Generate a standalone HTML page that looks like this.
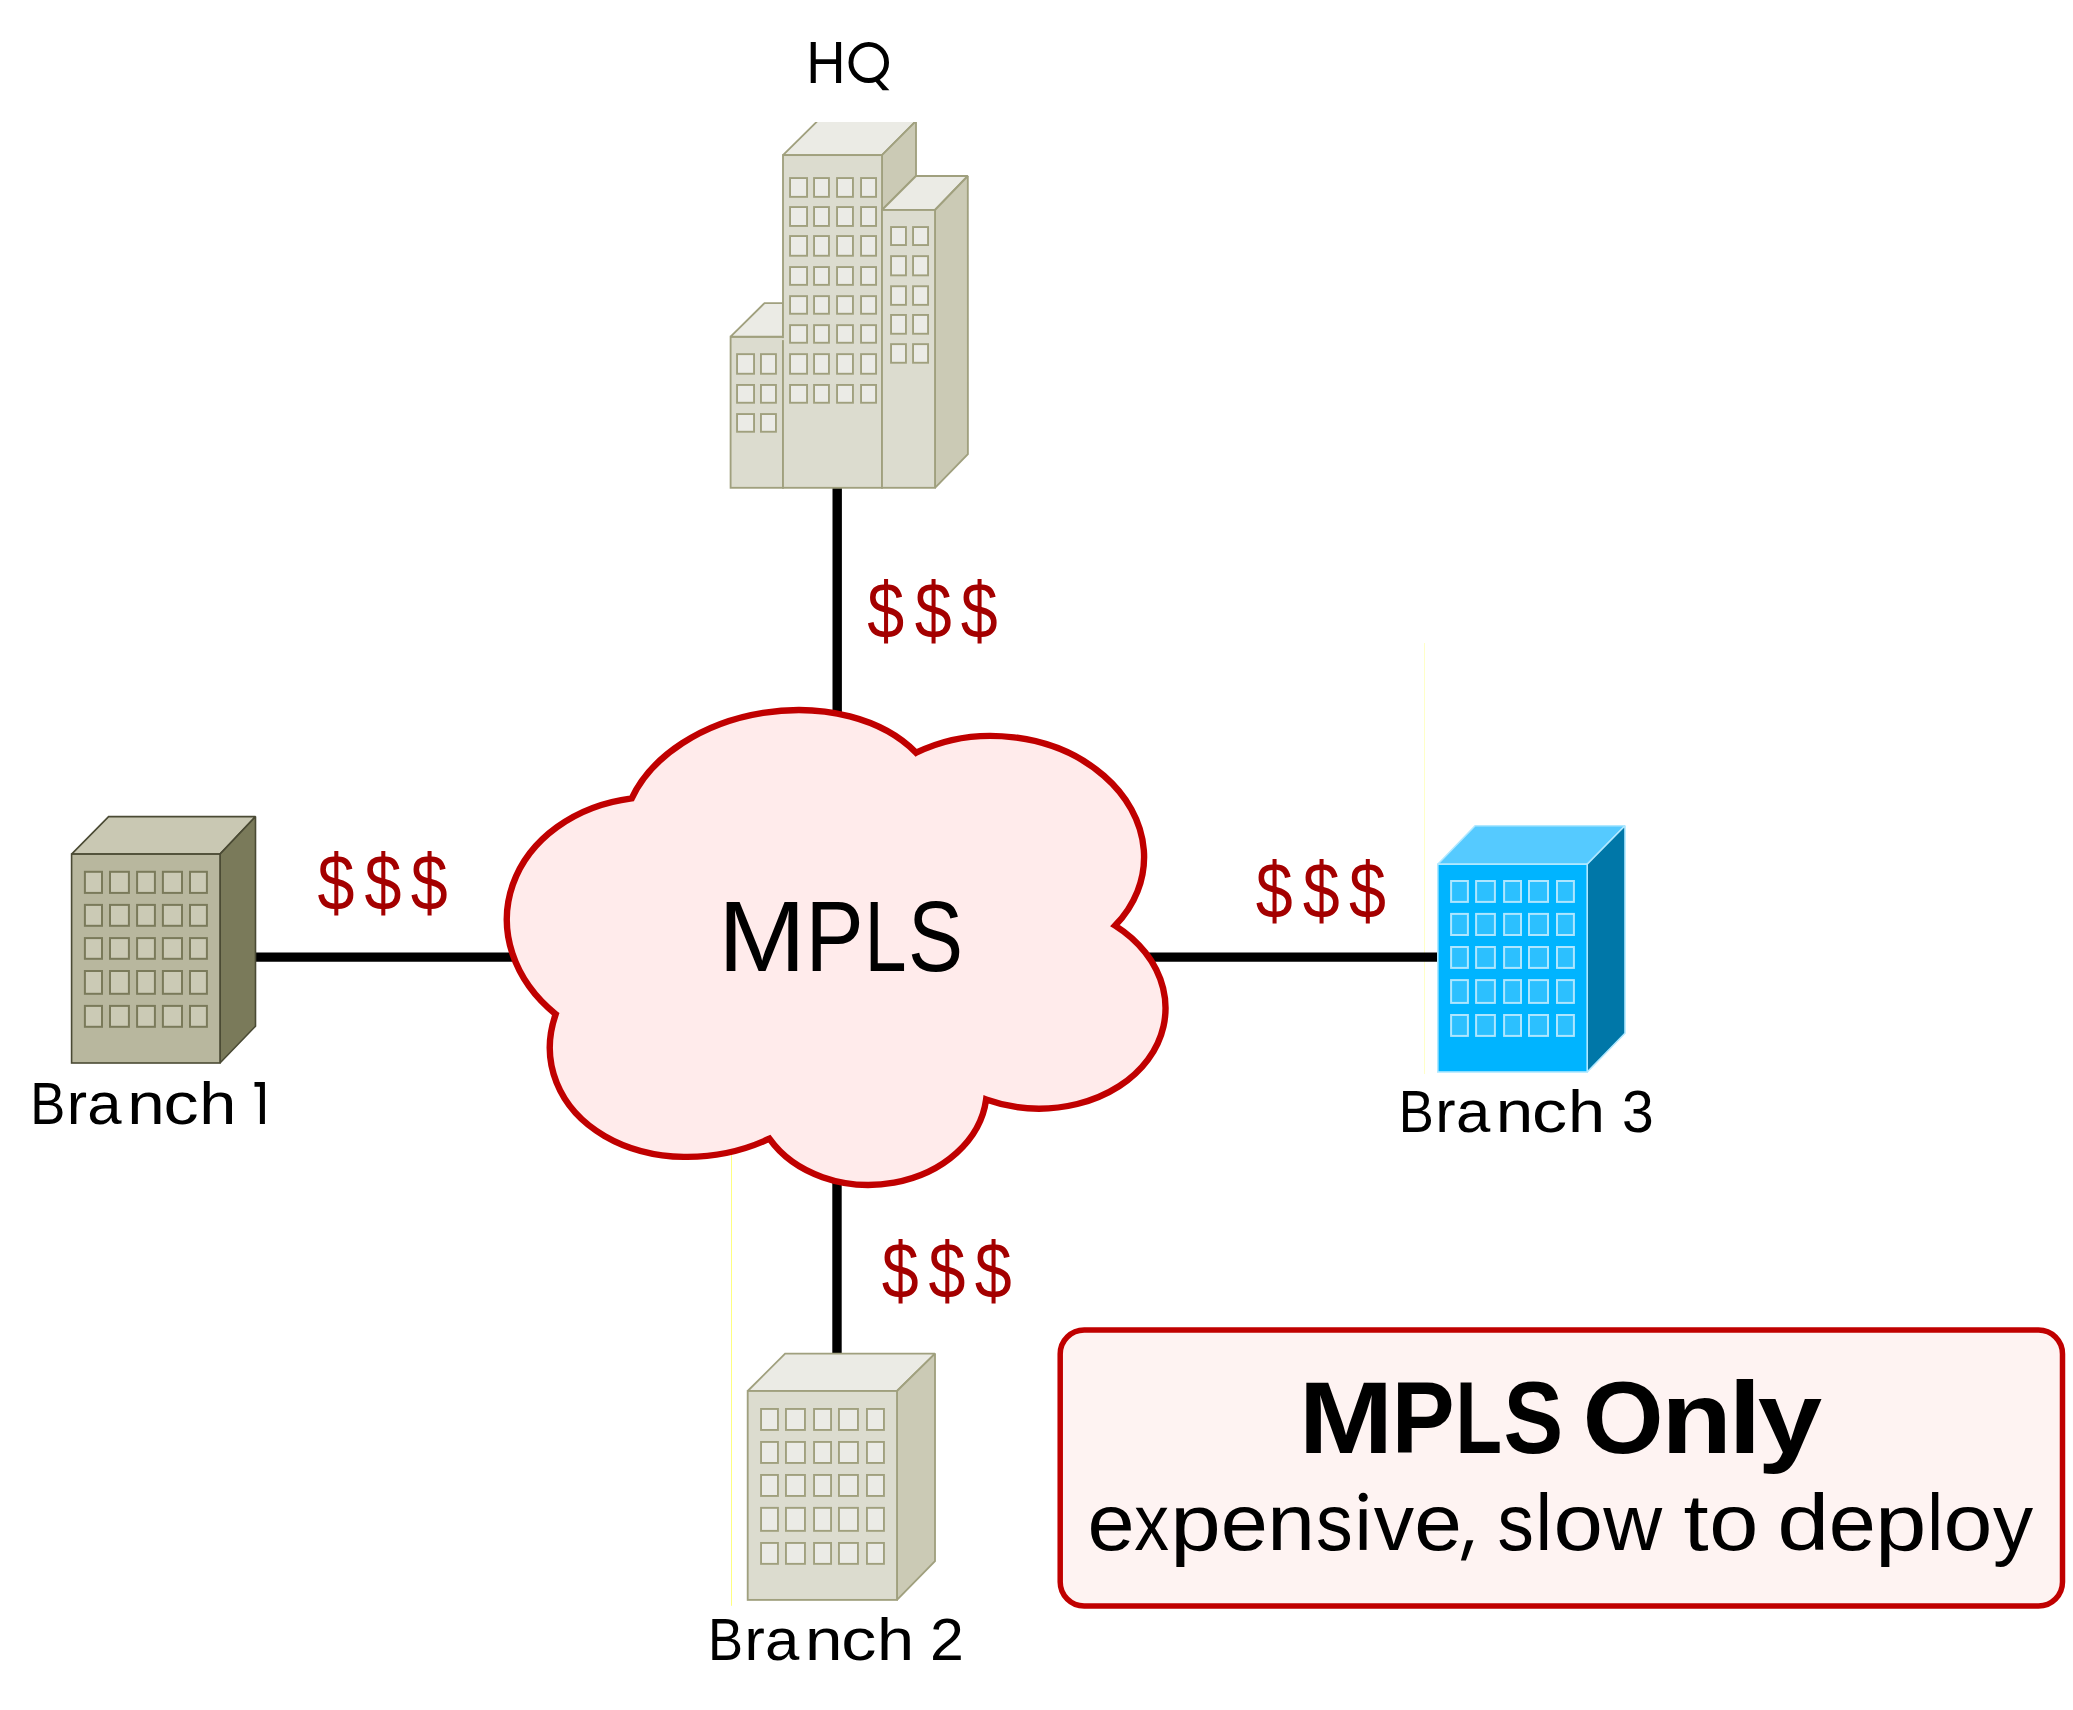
<!DOCTYPE html>
<html><head><meta charset="utf-8"><style>
html,body{margin:0;padding:0;background:#fff;}
body{width:2073px;height:1710px;overflow:hidden;font-family:"Liberation Sans",sans-serif;}
svg{display:block;position:absolute;left:0;top:0;}
</style></head><body>
<svg width="2073" height="1710" viewBox="0 0 2073 1710">
<defs><clipPath id="cliptop"><rect x="700" y="122" width="300" height="400"/></clipPath></defs>
<line x1="1424.5" y1="643" x2="1424.5" y2="1074" stroke="#ffffc8" stroke-width="1"/>
<line x1="731.5" y1="1140" x2="731.5" y2="1605.8" stroke="#ffff80" stroke-width="1"/>
<line x1="837.2" y1="488" x2="837.2" y2="760" stroke="#000" stroke-width="9.4"/>
<line x1="837" y1="1150" x2="837" y2="1353" stroke="#000" stroke-width="9.4"/>
<line x1="255" y1="957.1" x2="540" y2="957.1" stroke="#000" stroke-width="9.2"/>
<line x1="1120" y1="957.1" x2="1438.5" y2="957.1" stroke="#000" stroke-width="9.2"/>
<rect x="730.6" y="336.7" width="52.4" height="151.1" fill="#dcdccf" stroke="#a0a07e" stroke-width="1.85"/>
<polygon points="730.6,336.7 764.5,303.1 783,303.1 783,336.7" fill="#ebebe5" stroke="#a0a07e" stroke-width="1.85" stroke-linejoin="miter" stroke-miterlimit="2"/>
<rect x="737.05" y="354.15" width="17" height="19.6" fill="#ebebe6" stroke="#a0a07e" stroke-width="1.9"/>
<rect x="760.95" y="354.15" width="15" height="19.6" fill="#ebebe6" stroke="#a0a07e" stroke-width="1.9"/>
<rect x="737.05" y="384.95" width="17" height="17.8" fill="#ebebe6" stroke="#a0a07e" stroke-width="1.9"/>
<rect x="760.95" y="384.95" width="15" height="17.8" fill="#ebebe6" stroke="#a0a07e" stroke-width="1.9"/>
<rect x="737.05" y="414.05" width="17" height="17.7" fill="#ebebe6" stroke="#a0a07e" stroke-width="1.9"/>
<rect x="760.95" y="414.05" width="15" height="17.7" fill="#ebebe6" stroke="#a0a07e" stroke-width="1.9"/>
<g clip-path="url(#cliptop)"><polygon points="783,155.1 817.5,121 916,121 882,155.1" fill="#ebebe5" stroke="#a0a07e" stroke-width="1.85" stroke-linejoin="miter" stroke-miterlimit="2"/><polygon points="882,155.1 916,121 916,176 882,210" fill="#cbcab5" stroke="#a0a07e" stroke-width="1.85" stroke-linejoin="miter" stroke-miterlimit="2"/></g>
<rect x="783" y="155.1" width="99" height="332.7" fill="#dcdccf" stroke="#a0a07e" stroke-width="1.85"/>
<rect x="790.05" y="178.05" width="17" height="18.8" fill="#ebebe6" stroke="#a0a07e" stroke-width="1.9"/>
<rect x="814.05" y="178.05" width="14.9" height="18.8" fill="#ebebe6" stroke="#a0a07e" stroke-width="1.9"/>
<rect x="837.05" y="178.05" width="15.9" height="18.8" fill="#ebebe6" stroke="#a0a07e" stroke-width="1.9"/>
<rect x="861.05" y="178.05" width="15" height="18.8" fill="#ebebe6" stroke="#a0a07e" stroke-width="1.9"/>
<rect x="790.05" y="207.05" width="17" height="18.9" fill="#ebebe6" stroke="#a0a07e" stroke-width="1.9"/>
<rect x="814.05" y="207.05" width="14.9" height="18.9" fill="#ebebe6" stroke="#a0a07e" stroke-width="1.9"/>
<rect x="837.05" y="207.05" width="15.9" height="18.9" fill="#ebebe6" stroke="#a0a07e" stroke-width="1.9"/>
<rect x="861.05" y="207.05" width="15" height="18.9" fill="#ebebe6" stroke="#a0a07e" stroke-width="1.9"/>
<rect x="790.05" y="236.05" width="17" height="19.7" fill="#ebebe6" stroke="#a0a07e" stroke-width="1.9"/>
<rect x="814.05" y="236.05" width="14.9" height="19.7" fill="#ebebe6" stroke="#a0a07e" stroke-width="1.9"/>
<rect x="837.05" y="236.05" width="15.9" height="19.7" fill="#ebebe6" stroke="#a0a07e" stroke-width="1.9"/>
<rect x="861.05" y="236.05" width="15" height="19.7" fill="#ebebe6" stroke="#a0a07e" stroke-width="1.9"/>
<rect x="790.05" y="267.05" width="17" height="17.8" fill="#ebebe6" stroke="#a0a07e" stroke-width="1.9"/>
<rect x="814.05" y="267.05" width="14.9" height="17.8" fill="#ebebe6" stroke="#a0a07e" stroke-width="1.9"/>
<rect x="837.05" y="267.05" width="15.9" height="17.8" fill="#ebebe6" stroke="#a0a07e" stroke-width="1.9"/>
<rect x="861.05" y="267.05" width="15" height="17.8" fill="#ebebe6" stroke="#a0a07e" stroke-width="1.9"/>
<rect x="790.05" y="296.15" width="17" height="17.6" fill="#ebebe6" stroke="#a0a07e" stroke-width="1.9"/>
<rect x="814.05" y="296.15" width="14.9" height="17.6" fill="#ebebe6" stroke="#a0a07e" stroke-width="1.9"/>
<rect x="837.05" y="296.15" width="15.9" height="17.6" fill="#ebebe6" stroke="#a0a07e" stroke-width="1.9"/>
<rect x="861.05" y="296.15" width="15" height="17.6" fill="#ebebe6" stroke="#a0a07e" stroke-width="1.9"/>
<rect x="790.05" y="325.15" width="17" height="17.6" fill="#ebebe6" stroke="#a0a07e" stroke-width="1.9"/>
<rect x="814.05" y="325.15" width="14.9" height="17.6" fill="#ebebe6" stroke="#a0a07e" stroke-width="1.9"/>
<rect x="837.05" y="325.15" width="15.9" height="17.6" fill="#ebebe6" stroke="#a0a07e" stroke-width="1.9"/>
<rect x="861.05" y="325.15" width="15" height="17.6" fill="#ebebe6" stroke="#a0a07e" stroke-width="1.9"/>
<rect x="790.05" y="354.15" width="17" height="19.6" fill="#ebebe6" stroke="#a0a07e" stroke-width="1.9"/>
<rect x="814.05" y="354.15" width="14.9" height="19.6" fill="#ebebe6" stroke="#a0a07e" stroke-width="1.9"/>
<rect x="837.05" y="354.15" width="15.9" height="19.6" fill="#ebebe6" stroke="#a0a07e" stroke-width="1.9"/>
<rect x="861.05" y="354.15" width="15" height="19.6" fill="#ebebe6" stroke="#a0a07e" stroke-width="1.9"/>
<rect x="790.05" y="384.95" width="17" height="17.8" fill="#ebebe6" stroke="#a0a07e" stroke-width="1.9"/>
<rect x="814.05" y="384.95" width="14.9" height="17.8" fill="#ebebe6" stroke="#a0a07e" stroke-width="1.9"/>
<rect x="837.05" y="384.95" width="15.9" height="17.8" fill="#ebebe6" stroke="#a0a07e" stroke-width="1.9"/>
<rect x="861.05" y="384.95" width="15" height="17.8" fill="#ebebe6" stroke="#a0a07e" stroke-width="1.9"/>
<polygon points="882,210 916,176 967.8,176 935,210" fill="#ebebe5" stroke="#a0a07e" stroke-width="1.85" stroke-linejoin="miter" stroke-miterlimit="2"/>
<polygon points="935,210 967.8,176 967.9,454.1 935,487.8" fill="#cbcab5" stroke="#a0a07e" stroke-width="1.85" stroke-linejoin="miter" stroke-miterlimit="2"/>
<rect x="882" y="210" width="53" height="277.8" fill="#dcdccf" stroke="#a0a07e" stroke-width="1.85"/>
<rect x="781.9" y="338.1" width="2.2" height="2" fill="#dcdccf"/>
<rect x="891.05" y="227.05" width="14.9" height="18" fill="#ebebe6" stroke="#a0a07e" stroke-width="1.9"/>
<rect x="913.05" y="227.05" width="15" height="18" fill="#ebebe6" stroke="#a0a07e" stroke-width="1.9"/>
<rect x="891.05" y="256.15" width="14.9" height="19.2" fill="#ebebe6" stroke="#a0a07e" stroke-width="1.9"/>
<rect x="913.05" y="256.15" width="15" height="19.2" fill="#ebebe6" stroke="#a0a07e" stroke-width="1.9"/>
<rect x="891.05" y="286.25" width="14.9" height="18.6" fill="#ebebe6" stroke="#a0a07e" stroke-width="1.9"/>
<rect x="913.05" y="286.25" width="15" height="18.6" fill="#ebebe6" stroke="#a0a07e" stroke-width="1.9"/>
<rect x="891.05" y="314.95" width="14.9" height="18.8" fill="#ebebe6" stroke="#a0a07e" stroke-width="1.9"/>
<rect x="913.05" y="314.95" width="15" height="18.8" fill="#ebebe6" stroke="#a0a07e" stroke-width="1.9"/>
<rect x="891.05" y="344.15" width="14.9" height="18.6" fill="#ebebe6" stroke="#a0a07e" stroke-width="1.9"/>
<rect x="913.05" y="344.15" width="15" height="18.6" fill="#ebebe6" stroke="#a0a07e" stroke-width="1.9"/>
<polygon points="71.6,854.1 108.6,816.6 255.5,816.6 220,854.1" fill="#c9c8b3" stroke="#4a4a34" stroke-width="1.6" stroke-linejoin="miter" stroke-miterlimit="2"/>
<polygon points="220,854.1 255.5,816.6 255.5,1026.2 220,1063" fill="#7a7a5a" stroke="#4a4a34" stroke-width="1.6" stroke-linejoin="miter" stroke-miterlimit="2"/>
<rect x="71.6" y="854.1" width="148.4" height="208.9" fill="#b8b79e" stroke="#4a4a34" stroke-width="1.6"/>
<rect x="84.9" y="871.8" width="17.1" height="21.1" fill="#cbcab5" stroke="#7a7a5a" stroke-width="2"/>
<rect x="110" y="871.8" width="18.9" height="21.1" fill="#cbcab5" stroke="#7a7a5a" stroke-width="2"/>
<rect x="137.1" y="871.8" width="17.8" height="21.1" fill="#cbcab5" stroke="#7a7a5a" stroke-width="2"/>
<rect x="162.9" y="871.8" width="19.1" height="21.1" fill="#cbcab5" stroke="#7a7a5a" stroke-width="2"/>
<rect x="190" y="871.8" width="16.9" height="21.1" fill="#cbcab5" stroke="#7a7a5a" stroke-width="2"/>
<rect x="84.9" y="904.9" width="17.1" height="20.9" fill="#cbcab5" stroke="#7a7a5a" stroke-width="2"/>
<rect x="110" y="904.9" width="18.9" height="20.9" fill="#cbcab5" stroke="#7a7a5a" stroke-width="2"/>
<rect x="137.1" y="904.9" width="17.8" height="20.9" fill="#cbcab5" stroke="#7a7a5a" stroke-width="2"/>
<rect x="162.9" y="904.9" width="19.1" height="20.9" fill="#cbcab5" stroke="#7a7a5a" stroke-width="2"/>
<rect x="190" y="904.9" width="16.9" height="20.9" fill="#cbcab5" stroke="#7a7a5a" stroke-width="2"/>
<rect x="84.9" y="938.1" width="17.1" height="20.7" fill="#cbcab5" stroke="#7a7a5a" stroke-width="2"/>
<rect x="110" y="938.1" width="18.9" height="20.7" fill="#cbcab5" stroke="#7a7a5a" stroke-width="2"/>
<rect x="137.1" y="938.1" width="17.8" height="20.7" fill="#cbcab5" stroke="#7a7a5a" stroke-width="2"/>
<rect x="162.9" y="938.1" width="19.1" height="20.7" fill="#cbcab5" stroke="#7a7a5a" stroke-width="2"/>
<rect x="190" y="938.1" width="16.9" height="20.7" fill="#cbcab5" stroke="#7a7a5a" stroke-width="2"/>
<rect x="84.9" y="971" width="17.1" height="22.8" fill="#cbcab5" stroke="#7a7a5a" stroke-width="2"/>
<rect x="110" y="971" width="18.9" height="22.8" fill="#cbcab5" stroke="#7a7a5a" stroke-width="2"/>
<rect x="137.1" y="971" width="17.8" height="22.8" fill="#cbcab5" stroke="#7a7a5a" stroke-width="2"/>
<rect x="162.9" y="971" width="19.1" height="22.8" fill="#cbcab5" stroke="#7a7a5a" stroke-width="2"/>
<rect x="190" y="971" width="16.9" height="22.8" fill="#cbcab5" stroke="#7a7a5a" stroke-width="2"/>
<rect x="84.9" y="1005.9" width="17.1" height="20.9" fill="#cbcab5" stroke="#7a7a5a" stroke-width="2"/>
<rect x="110" y="1005.9" width="18.9" height="20.9" fill="#cbcab5" stroke="#7a7a5a" stroke-width="2"/>
<rect x="137.1" y="1005.9" width="17.8" height="20.9" fill="#cbcab5" stroke="#7a7a5a" stroke-width="2"/>
<rect x="162.9" y="1005.9" width="19.1" height="20.9" fill="#cbcab5" stroke="#7a7a5a" stroke-width="2"/>
<rect x="190" y="1005.9" width="16.9" height="20.9" fill="#cbcab5" stroke="#7a7a5a" stroke-width="2"/>
<polygon points="1437.8,864.2 1475.1,825.7 1625,825.7 1587.2,864.2" fill="#55caff" stroke="#b0e8ff" stroke-width="1.6" stroke-linejoin="miter" stroke-miterlimit="2"/>
<polygon points="1587.2,864.2 1625,825.7 1625,1033.2 1587.2,1072" fill="#0077a8" stroke="#b0e8ff" stroke-width="1.6" stroke-linejoin="miter" stroke-miterlimit="2"/>
<rect x="1437.8" y="864.2" width="149.4" height="207.8" fill="#00b4ff" stroke="#b0e8ff" stroke-width="1.6"/>
<rect x="1451.1" y="881" width="16.8" height="20.9" fill="#2cc0ff" stroke="#aee6ff" stroke-width="2"/>
<rect x="1476.1" y="881" width="18.8" height="20.9" fill="#2cc0ff" stroke="#aee6ff" stroke-width="2"/>
<rect x="1504.1" y="881" width="16.9" height="20.9" fill="#2cc0ff" stroke="#aee6ff" stroke-width="2"/>
<rect x="1529" y="881" width="19" height="20.9" fill="#2cc0ff" stroke="#aee6ff" stroke-width="2"/>
<rect x="1557" y="881" width="16.9" height="20.9" fill="#2cc0ff" stroke="#aee6ff" stroke-width="2"/>
<rect x="1451.1" y="913.9" width="16.8" height="21.1" fill="#2cc0ff" stroke="#aee6ff" stroke-width="2"/>
<rect x="1476.1" y="913.9" width="18.8" height="21.1" fill="#2cc0ff" stroke="#aee6ff" stroke-width="2"/>
<rect x="1504.1" y="913.9" width="16.9" height="21.1" fill="#2cc0ff" stroke="#aee6ff" stroke-width="2"/>
<rect x="1529" y="913.9" width="19" height="21.1" fill="#2cc0ff" stroke="#aee6ff" stroke-width="2"/>
<rect x="1557" y="913.9" width="16.9" height="21.1" fill="#2cc0ff" stroke="#aee6ff" stroke-width="2"/>
<rect x="1451.1" y="947" width="16.8" height="20.9" fill="#2cc0ff" stroke="#aee6ff" stroke-width="2"/>
<rect x="1476.1" y="947" width="18.8" height="20.9" fill="#2cc0ff" stroke="#aee6ff" stroke-width="2"/>
<rect x="1504.1" y="947" width="16.9" height="20.9" fill="#2cc0ff" stroke="#aee6ff" stroke-width="2"/>
<rect x="1529" y="947" width="19" height="20.9" fill="#2cc0ff" stroke="#aee6ff" stroke-width="2"/>
<rect x="1557" y="947" width="16.9" height="20.9" fill="#2cc0ff" stroke="#aee6ff" stroke-width="2"/>
<rect x="1451.1" y="980.1" width="16.8" height="22.8" fill="#2cc0ff" stroke="#aee6ff" stroke-width="2"/>
<rect x="1476.1" y="980.1" width="18.8" height="22.8" fill="#2cc0ff" stroke="#aee6ff" stroke-width="2"/>
<rect x="1504.1" y="980.1" width="16.9" height="22.8" fill="#2cc0ff" stroke="#aee6ff" stroke-width="2"/>
<rect x="1529" y="980.1" width="19" height="22.8" fill="#2cc0ff" stroke="#aee6ff" stroke-width="2"/>
<rect x="1557" y="980.1" width="16.9" height="22.8" fill="#2cc0ff" stroke="#aee6ff" stroke-width="2"/>
<rect x="1451.1" y="1015" width="16.8" height="20.9" fill="#2cc0ff" stroke="#aee6ff" stroke-width="2"/>
<rect x="1476.1" y="1015" width="18.8" height="20.9" fill="#2cc0ff" stroke="#aee6ff" stroke-width="2"/>
<rect x="1504.1" y="1015" width="16.9" height="20.9" fill="#2cc0ff" stroke="#aee6ff" stroke-width="2"/>
<rect x="1529" y="1015" width="19" height="20.9" fill="#2cc0ff" stroke="#aee6ff" stroke-width="2"/>
<rect x="1557" y="1015" width="16.9" height="20.9" fill="#2cc0ff" stroke="#aee6ff" stroke-width="2"/>
<polygon points="747.7,1391 785.1,1353.6 935,1353.6 897,1391" fill="#ebebe5" stroke="#a0a07e" stroke-width="1.85" stroke-linejoin="miter" stroke-miterlimit="2"/>
<polygon points="897,1391 935,1353.6 935,1561.1 897,1599.9" fill="#cbcab5" stroke="#a0a07e" stroke-width="1.85" stroke-linejoin="miter" stroke-miterlimit="2"/>
<rect x="747.7" y="1391" width="149.3" height="208.9" fill="#dcdccf" stroke="#a0a07e" stroke-width="1.85"/>
<rect x="761.05" y="1408.95" width="16.9" height="21" fill="#ebebe6" stroke="#a0a07e" stroke-width="1.9"/>
<rect x="785.95" y="1408.95" width="19" height="21" fill="#ebebe6" stroke="#a0a07e" stroke-width="1.9"/>
<rect x="814.05" y="1408.95" width="17" height="21" fill="#ebebe6" stroke="#a0a07e" stroke-width="1.9"/>
<rect x="838.95" y="1408.95" width="19" height="21" fill="#ebebe6" stroke="#a0a07e" stroke-width="1.9"/>
<rect x="866.95" y="1408.95" width="17" height="21" fill="#ebebe6" stroke="#a0a07e" stroke-width="1.9"/>
<rect x="761.05" y="1441.95" width="16.9" height="21" fill="#ebebe6" stroke="#a0a07e" stroke-width="1.9"/>
<rect x="785.95" y="1441.95" width="19" height="21" fill="#ebebe6" stroke="#a0a07e" stroke-width="1.9"/>
<rect x="814.05" y="1441.95" width="17" height="21" fill="#ebebe6" stroke="#a0a07e" stroke-width="1.9"/>
<rect x="838.95" y="1441.95" width="19" height="21" fill="#ebebe6" stroke="#a0a07e" stroke-width="1.9"/>
<rect x="866.95" y="1441.95" width="17" height="21" fill="#ebebe6" stroke="#a0a07e" stroke-width="1.9"/>
<rect x="761.05" y="1474.95" width="16.9" height="21" fill="#ebebe6" stroke="#a0a07e" stroke-width="1.9"/>
<rect x="785.95" y="1474.95" width="19" height="21" fill="#ebebe6" stroke="#a0a07e" stroke-width="1.9"/>
<rect x="814.05" y="1474.95" width="17" height="21" fill="#ebebe6" stroke="#a0a07e" stroke-width="1.9"/>
<rect x="838.95" y="1474.95" width="19" height="21" fill="#ebebe6" stroke="#a0a07e" stroke-width="1.9"/>
<rect x="866.95" y="1474.95" width="17" height="21" fill="#ebebe6" stroke="#a0a07e" stroke-width="1.9"/>
<rect x="761.05" y="1507.85" width="16.9" height="23" fill="#ebebe6" stroke="#a0a07e" stroke-width="1.9"/>
<rect x="785.95" y="1507.85" width="19" height="23" fill="#ebebe6" stroke="#a0a07e" stroke-width="1.9"/>
<rect x="814.05" y="1507.85" width="17" height="23" fill="#ebebe6" stroke="#a0a07e" stroke-width="1.9"/>
<rect x="838.95" y="1507.85" width="19" height="23" fill="#ebebe6" stroke="#a0a07e" stroke-width="1.9"/>
<rect x="866.95" y="1507.85" width="17" height="23" fill="#ebebe6" stroke="#a0a07e" stroke-width="1.9"/>
<rect x="761.05" y="1542.95" width="16.9" height="20.9" fill="#ebebe6" stroke="#a0a07e" stroke-width="1.9"/>
<rect x="785.95" y="1542.95" width="19" height="20.9" fill="#ebebe6" stroke="#a0a07e" stroke-width="1.9"/>
<rect x="814.05" y="1542.95" width="17" height="20.9" fill="#ebebe6" stroke="#a0a07e" stroke-width="1.9"/>
<rect x="838.95" y="1542.95" width="19" height="20.9" fill="#ebebe6" stroke="#a0a07e" stroke-width="1.9"/>
<rect x="866.95" y="1542.95" width="17" height="20.9" fill="#ebebe6" stroke="#a0a07e" stroke-width="1.9"/>
<path d="M 631.73 798.34 A 160.28 113.29 -8.385 0 1 916.15 752.73 A 116.36 147.27 -85.308 0 1 1115.13 925.58 A 102.87 129.28 -86.913 0 1 986.14 1099.44 A 116.32 93.96 -2.258 0 1 769.38 1138.71 A 119.68 153.80 78.339 0 1 555.71 1014.17 A 127.51 155.27 -84.082 0 1 631.73 798.34 Z" fill="#ffebeb" stroke="#c00000" stroke-width="6.4" stroke-linejoin="miter" stroke-miterlimit="10"/>
<rect x="1060.2" y="1330" width="1002.3" height="276" rx="24" ry="24" fill="#fef3f2" stroke="#c00000" stroke-width="5.5"/>
<text transform="matrix(0.9296 0 0 1 806.26 82.70)" font-size="58.55" font-weight="normal" font-family="Liberation Sans, sans-serif" fill="#000">H</text>
<ellipse cx="868.75" cy="62.45" rx="17.8" ry="18.1" fill="none" stroke="#000" stroke-width="4.9"/><path d="M 874.6 80.6 L 879.2 79.2 L 889.4 90.2 L 882.6 90.2 Z" fill="#000"/>
<text transform="matrix(0.8975 0 0 1 30.22 1123.80)" font-size="58.55" font-weight="normal" font-family="Liberation Sans, sans-serif" fill="#000">B</text>
<text transform="matrix(1.0418 0 0 1 66.68 1123.80)" font-size="58.55" font-weight="normal" font-family="Liberation Sans, sans-serif" fill="#000">r</text>
<text transform="matrix(1.0530 0 0 1 87.33 1123.80)" font-size="58.55" font-weight="normal" font-family="Liberation Sans, sans-serif" fill="#000">a</text>
<text transform="matrix(1.1498 0 0 1 127.26 1123.80)" font-size="58.55" font-weight="normal" font-family="Liberation Sans, sans-serif" fill="#000">n</text>
<text transform="matrix(1.1995 0 0 1 163.51 1123.80)" font-size="58.55" font-weight="normal" font-family="Liberation Sans, sans-serif" fill="#000">c</text>
<text transform="matrix(1.1386 0 0 1 199.33 1123.80)" font-size="58.55" font-weight="normal" font-family="Liberation Sans, sans-serif" fill="#000">h</text>
<path d="M 254.5 1082.1 H 264.9 V 1123.9 H 259.9 V 1086.7 H 254.5 Z" fill="#000"/>
<text transform="matrix(0.8975 0 0 1 1398.82 1132.10)" font-size="58.55" font-weight="normal" font-family="Liberation Sans, sans-serif" fill="#000">B</text>
<text transform="matrix(1.0418 0 0 1 1435.28 1132.10)" font-size="58.55" font-weight="normal" font-family="Liberation Sans, sans-serif" fill="#000">r</text>
<text transform="matrix(1.0530 0 0 1 1455.93 1132.10)" font-size="58.55" font-weight="normal" font-family="Liberation Sans, sans-serif" fill="#000">a</text>
<text transform="matrix(1.1498 0 0 1 1495.86 1132.10)" font-size="58.55" font-weight="normal" font-family="Liberation Sans, sans-serif" fill="#000">n</text>
<text transform="matrix(1.1995 0 0 1 1532.11 1132.10)" font-size="58.55" font-weight="normal" font-family="Liberation Sans, sans-serif" fill="#000">c</text>
<text transform="matrix(1.1386 0 0 1 1567.93 1132.10)" font-size="58.55" font-weight="normal" font-family="Liberation Sans, sans-serif" fill="#000">h</text>
<text transform="matrix(0.9742 0 0 1 1622.02 1132.10)" font-size="58.55" font-weight="normal" font-family="Liberation Sans, sans-serif" fill="#000">3</text>
<text transform="matrix(0.8975 0 0 1 707.92 1660.00)" font-size="58.55" font-weight="normal" font-family="Liberation Sans, sans-serif" fill="#000">B</text>
<text transform="matrix(1.0418 0 0 1 744.38 1660.00)" font-size="58.55" font-weight="normal" font-family="Liberation Sans, sans-serif" fill="#000">r</text>
<text transform="matrix(1.0530 0 0 1 765.03 1660.00)" font-size="58.55" font-weight="normal" font-family="Liberation Sans, sans-serif" fill="#000">a</text>
<text transform="matrix(1.1498 0 0 1 804.96 1660.00)" font-size="58.55" font-weight="normal" font-family="Liberation Sans, sans-serif" fill="#000">n</text>
<text transform="matrix(1.1995 0 0 1 841.21 1660.00)" font-size="58.55" font-weight="normal" font-family="Liberation Sans, sans-serif" fill="#000">c</text>
<text transform="matrix(1.1386 0 0 1 877.03 1660.00)" font-size="58.55" font-weight="normal" font-family="Liberation Sans, sans-serif" fill="#000">h</text>
<text transform="matrix(1.0397 0 0 1 929.96 1660.00)" font-size="58.55" font-weight="normal" font-family="Liberation Sans, sans-serif" fill="#000">2</text>
<text transform="matrix(1.0499 0 0 1 717.91 970.90)" font-size="100.43" font-weight="normal" font-family="Liberation Sans, sans-serif" fill="#000">M</text>
<text transform="matrix(0.8698 0 0 1 805.52 970.90)" font-size="100.43" font-weight="normal" font-family="Liberation Sans, sans-serif" fill="#000">P</text>
<text transform="matrix(0.7535 0 0 1 864.59 970.90)" font-size="100.43" font-weight="normal" font-family="Liberation Sans, sans-serif" fill="#000">L</text>
<text transform="matrix(0.8214 0 0 1 907.95 970.90)" font-size="100.43" font-weight="normal" font-family="Liberation Sans, sans-serif" fill="#000">S</text>
<text transform="matrix(0.8328 0 0 1 867.34 638.22)" font-size="79.75" font-weight="normal" font-family="Liberation Sans, sans-serif" fill="#a40000">$</text>
<text transform="matrix(0.8328 0 0 1 914.84 638.22)" font-size="79.75" font-weight="normal" font-family="Liberation Sans, sans-serif" fill="#a40000">$</text>
<text transform="matrix(0.8328 0 0 1 960.84 638.22)" font-size="79.75" font-weight="normal" font-family="Liberation Sans, sans-serif" fill="#a40000">$</text>
<text transform="matrix(0.8328 0 0 1 317.44 910.02)" font-size="79.75" font-weight="normal" font-family="Liberation Sans, sans-serif" fill="#a40000">$</text>
<text transform="matrix(0.8328 0 0 1 364.54 910.02)" font-size="79.75" font-weight="normal" font-family="Liberation Sans, sans-serif" fill="#a40000">$</text>
<text transform="matrix(0.8328 0 0 1 410.84 910.02)" font-size="79.75" font-weight="normal" font-family="Liberation Sans, sans-serif" fill="#a40000">$</text>
<text transform="matrix(0.8328 0 0 1 1255.84 917.92)" font-size="79.75" font-weight="normal" font-family="Liberation Sans, sans-serif" fill="#a40000">$</text>
<text transform="matrix(0.8328 0 0 1 1302.84 917.92)" font-size="79.75" font-weight="normal" font-family="Liberation Sans, sans-serif" fill="#a40000">$</text>
<text transform="matrix(0.8328 0 0 1 1348.94 917.92)" font-size="79.75" font-weight="normal" font-family="Liberation Sans, sans-serif" fill="#a40000">$</text>
<text transform="matrix(0.8328 0 0 1 881.64 1298.32)" font-size="79.75" font-weight="normal" font-family="Liberation Sans, sans-serif" fill="#a40000">$</text>
<text transform="matrix(0.8328 0 0 1 928.44 1298.32)" font-size="79.75" font-weight="normal" font-family="Liberation Sans, sans-serif" fill="#a40000">$</text>
<text transform="matrix(0.8328 0 0 1 974.64 1298.32)" font-size="79.75" font-weight="normal" font-family="Liberation Sans, sans-serif" fill="#a40000">$</text>
<text transform="matrix(1.1039 0 0 1 1298.64 1453.40)" font-size="102.75" font-weight="bold" font-family="Liberation Sans, sans-serif" fill="#000">M</text>
<text transform="matrix(0.9171 0 0 1 1391.82 1453.40)" font-size="102.75" font-weight="bold" font-family="Liberation Sans, sans-serif" fill="#000">P</text>
<text transform="matrix(0.7413 0 0 1 1455.52 1453.40)" font-size="102.75" font-weight="bold" font-family="Liberation Sans, sans-serif" fill="#000">L</text>
<text transform="matrix(0.8710 0 0 1 1503.52 1453.40)" font-size="102.75" font-weight="bold" font-family="Liberation Sans, sans-serif" fill="#000">S</text>
<text transform="matrix(1.0114 0 0 1 1582.84 1453.40)" font-size="102.75" font-weight="bold" font-family="Liberation Sans, sans-serif" fill="#000">O</text>
<text transform="matrix(1.1276 0 0 1 1661.28 1453.40)" font-size="102.75" font-weight="bold" font-family="Liberation Sans, sans-serif" fill="#000">n</text>
<text transform="matrix(1.1678 0 0 1 1728.30 1453.40)" font-size="102.75" font-weight="bold" font-family="Liberation Sans, sans-serif" fill="#000">l</text>
<text transform="matrix(1.1264 0 0 1 1757.74 1453.40)" font-size="102.75" font-weight="bold" font-family="Liberation Sans, sans-serif" fill="#000">y</text>
<text transform="matrix(1.0737 0 0 1 1087.43 1549.90)" font-size="78.87" font-weight="normal" font-family="Liberation Sans, sans-serif" fill="#000">e</text>
<text transform="matrix(0.8813 0 0 1 1134.27 1549.90)" font-size="78.87" font-weight="normal" font-family="Liberation Sans, sans-serif" fill="#000">x</text>
<text transform="matrix(1.1524 0 0 1 1170.24 1549.90)" font-size="78.87" font-weight="normal" font-family="Liberation Sans, sans-serif" fill="#000">p</text>
<text transform="matrix(1.0737 0 0 1 1220.63 1549.90)" font-size="78.87" font-weight="normal" font-family="Liberation Sans, sans-serif" fill="#000">e</text>
<text transform="matrix(1.0872 0 0 1 1267.18 1549.90)" font-size="78.87" font-weight="normal" font-family="Liberation Sans, sans-serif" fill="#000">n</text>
<text transform="matrix(0.9305 0 0 1 1316.00 1549.90)" font-size="78.87" font-weight="normal" font-family="Liberation Sans, sans-serif" fill="#000">s</text>
<text transform="matrix(1.0229 0 0 1 1373.63 1549.90)" font-size="78.87" font-weight="normal" font-family="Liberation Sans, sans-serif" fill="#000">v</text>
<text transform="matrix(1.0872 0 0 1 1414.28 1549.90)" font-size="78.87" font-weight="normal" font-family="Liberation Sans, sans-serif" fill="#000">e</text>
<text transform="matrix(0.9217 0 0 1 1497.42 1549.90)" font-size="78.87" font-weight="normal" font-family="Liberation Sans, sans-serif" fill="#000">s</text>
<text transform="matrix(0.9439 0 0 1 1535.54 1549.90)" font-size="78.87" font-weight="normal" font-family="Liberation Sans, sans-serif" fill="#000">l</text>
<text transform="matrix(1.1277 0 0 1 1553.45 1549.90)" font-size="78.87" font-weight="normal" font-family="Liberation Sans, sans-serif" fill="#000">o</text>
<text transform="matrix(1.0342 0 0 1 1603.20 1549.90)" font-size="78.87" font-weight="normal" font-family="Liberation Sans, sans-serif" fill="#000">w</text>
<text transform="matrix(1.1462 0 0 1 1683.59 1549.90)" font-size="78.87" font-weight="normal" font-family="Liberation Sans, sans-serif" fill="#000">t</text>
<text transform="matrix(1.1196 0 0 1 1709.27 1549.90)" font-size="78.87" font-weight="normal" font-family="Liberation Sans, sans-serif" fill="#000">o</text>
<text transform="matrix(1.1866 0 0 1 1777.34 1549.90)" font-size="78.87" font-weight="normal" font-family="Liberation Sans, sans-serif" fill="#000">d</text>
<text transform="matrix(1.0737 0 0 1 1828.73 1549.90)" font-size="78.87" font-weight="normal" font-family="Liberation Sans, sans-serif" fill="#000">e</text>
<text transform="matrix(1.1721 0 0 1 1874.95 1549.90)" font-size="78.87" font-weight="normal" font-family="Liberation Sans, sans-serif" fill="#000">p</text>
<text transform="matrix(0.9016 0 0 1 1927.16 1549.90)" font-size="78.87" font-weight="normal" font-family="Liberation Sans, sans-serif" fill="#000">l</text>
<text transform="matrix(1.1142 0 0 1 1943.59 1549.90)" font-size="78.87" font-weight="normal" font-family="Liberation Sans, sans-serif" fill="#000">o</text>
<text transform="matrix(1.0178 0 0 1 1993.03 1549.90)" font-size="78.87" font-weight="normal" font-family="Liberation Sans, sans-serif" fill="#000">y</text>
<rect x="1359.8" y="1509.2" width="6.7" height="40.7" fill="#000"/><circle cx="1363.2" cy="1497.3" r="4.5" fill="#000"/>
<path d="M 1466.6 1540.2 L 1473.4 1540.2 L 1465.9 1560.6 L 1460.9 1560.6 Z" fill="#000"/>
</svg>
</body></html>
